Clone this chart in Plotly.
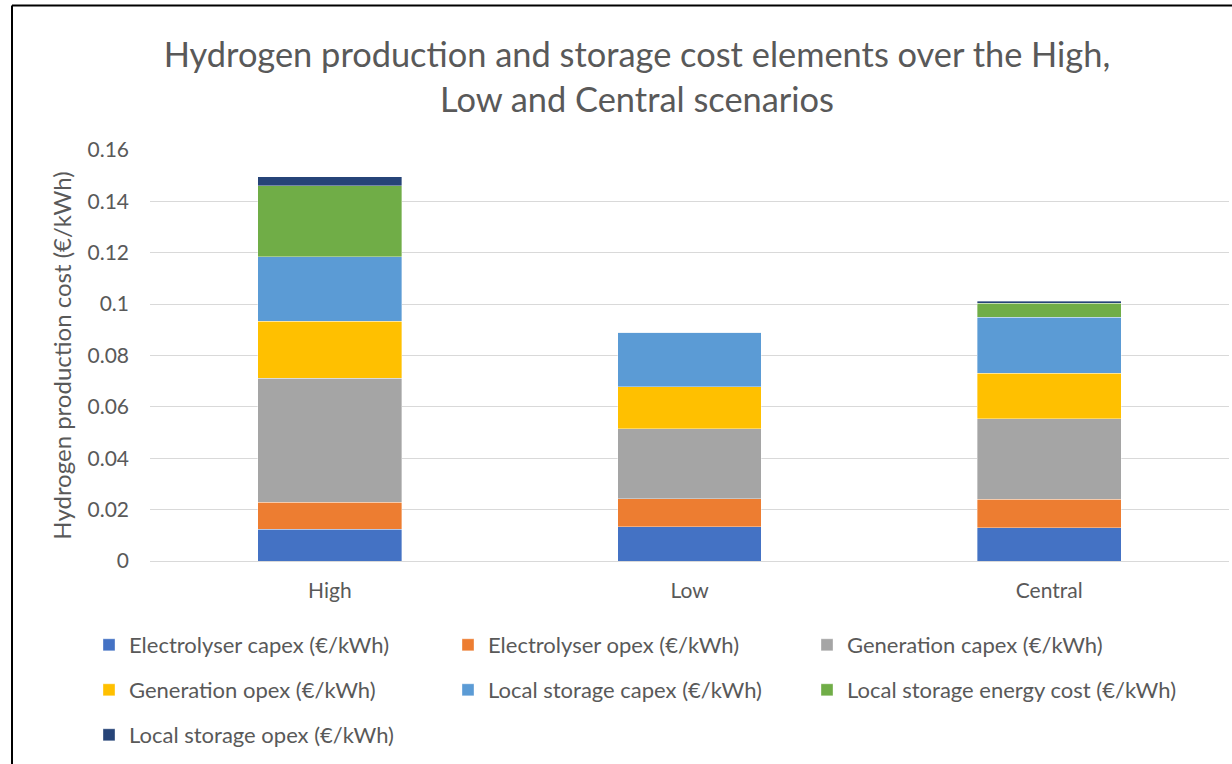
import plotly.graph_objects as go

categories = ["High", "Low", "Central"]
series_names = [
    "Electrolyser capex (€/kWh)",
    "Electrolyser opex (€/kWh)",
    "Generation capex (€/kWh)",
    "Generation opex (€/kWh)",
    "Local storage capex (€/kWh)",
    "Local storage energy cost (€/kWh)",
    "Local storage opex (€/kWh)",
]
electrolyser_capex = [0.0123, 0.0134, 0.0130]
electrolyser_opex = [0.0105, 0.0109, 0.0110]
generation_capex = [0.0483, 0.0272, 0.0314]
generation_opex = [0.0222, 0.0164, 0.0177]
storage_capex = [0.0252, 0.0211, 0.0218]
storage_energy = [0.0276, 0.0, 0.0055]
storage_opex = [0.0035, 0.0, 0.0007]
colors = ["#4472C4", "#ED7D31", "#A5A5A5", "#FFC000", "#5B9BD5", "#70AD47", "#264478"]

values = [electrolyser_capex, electrolyser_opex, generation_capex, generation_opex,
          storage_capex, storage_energy, storage_opex]

FONT = "Lato"
GREY = "#595959"

W, H = 1232, 764
L, R, T, B = 150, 3, 150, 203
pw = W - L - R
ph = H - T - B

def px_x(p):
    return (p - L) / pw

def px_y(p):
    return (H - B - p) / ph

fig = go.Figure()
legend_layout = {}
col_x = [89, 448, 807]
row_y = [645, 690, 735]
for i, (name, vals, col) in enumerate(zip(series_names, values, colors)):
    lg = f"legend{i + 2}"
    fig.add_trace(go.Bar(
        x=categories, y=vals, name=name, showlegend=True,
        marker=dict(color=col, line=dict(color="rgba(255,255,255,0.6)", width=0.6)),
        legend=lg,
    ))
    legend_layout[lg] = dict(
        x=px_x(col_x[i % 3]), y=px_y(row_y[i // 3]),
        orientation="h", xanchor="left", yanchor="middle",
        bgcolor="rgba(0,0,0,0)", itemwidth=30,
        font=dict(family=FONT, size=22, color=GREY),
    )

fig.update_layout(
    width=W, height=H,
    margin=dict(l=L, r=R, t=T, b=B),
    barmode="stack",
    bargap=0.6,
    showlegend=True,
    paper_bgcolor="white", plot_bgcolor="white",
    font=dict(family=FONT, color=GREY),
    title=dict(
        text="Hydrogen production and storage cost elements over the High,<br>Low and Central scenarios",
        font=dict(family=FONT, size=34.4, color=GREY),
        x=637 / W, xanchor="center", y=1 - 67 / H, yanchor="middle",
    ),
    xaxis=dict(
        showgrid=False, showline=True, linecolor="#D9D9D9", linewidth=1,
        tickfont=dict(family=FONT, size=21, color=GREY), ticks="",
        ticklabelstandoff=11,
    ),
    yaxis=dict(
        range=[0, 0.16], dtick=0.02, showgrid=True, gridcolor="#D9D9D9", gridwidth=1,
        zeroline=False, tickfont=dict(family=FONT, size=21, color=GREY),
        tickformat="~g", ticklabelstandoff=20,
        title=dict(text="Hydrogen production cost (€/kWh)", font=dict(family=FONT, size=24, color=GREY),
                   standoff=9),
    ),
    shapes=[
        dict(type="line", xref="paper", yref="paper", x0=px_x(12), x1=px_x(W + 20),
             y0=px_y(5.5), y1=px_y(5.5), line=dict(color="black", width=2)),
        dict(type="line", xref="paper", yref="paper", x0=px_x(12), x1=px_x(12),
             y0=px_y(5.5), y1=px_y(H + 20), line=dict(color="black", width=2)),
    ],
    **legend_layout,
)

fig.write_html("out.html", config={"displayModeBar": False},
               post_script="document.body.style.margin='0';document.body.style.padding='0';")
